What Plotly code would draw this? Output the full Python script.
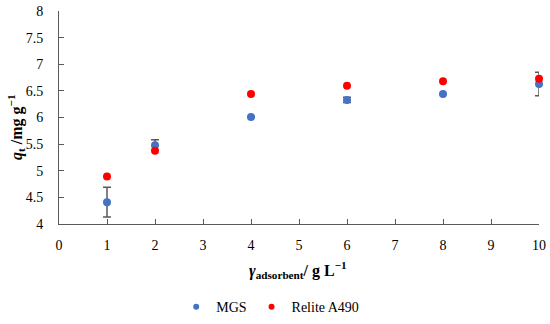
import plotly.graph_objects as go

dose = [1, 2, 4, 6, 8, 10]
mgs = [4.41, 5.48, 6.01, 6.33, 6.44, 6.63]
mgs_err = [0.28, 0.10, 0.0, 0.05, 0.0, 0.22]
relite = [4.89, 5.375, 6.44, 6.595, 6.68, 6.73]

FONT = "Liberation Serif"
AX = "#595959"
BLUE = "#4472C4"
RED = "#FF0000"

fig = go.Figure()
fig.add_trace(go.Scatter(
    x=dose, y=mgs, mode="markers", name="MGS", showlegend=False, legendgroup="mgs",
    marker=dict(color=BLUE, size=8), cliponaxis=False,
    error_y=dict(type="data", array=mgs_err, visible=True, color=AX, thickness=1.5, width=4),
))
fig.add_trace(go.Scatter(
    x=dose, y=relite, mode="markers", name="Relite A490", showlegend=False, legendgroup="rel",
    marker=dict(color=RED, size=8), cliponaxis=False,
))
# legend entries with the smaller legend dot
fig.add_trace(go.Scatter(x=[None], y=[None], mode="markers", name="MGS", legendgroup="mgs",
                         marker=dict(color=BLUE, size=6)))
fig.add_trace(go.Scatter(x=[None], y=[None], mode="markers", name="Relite A490", legendgroup="rel",
                         marker=dict(color=RED, size=6)))

fig.update_layout(
    template="none",
    width=550, height=324,
    margin=dict(l=59, r=11, t=11, b=100, autoexpand=False),
    paper_bgcolor="white", plot_bgcolor="white",
    font=dict(family=FONT, size=14, color="#000000"),
    showlegend=True,
    legend=dict(orientation="h", x=0.44, y=-0.39, xanchor="center", yanchor="middle",
                font=dict(family=FONT, size=14), itemwidth=30, tracegroupgap=0,
                bgcolor="rgba(0,0,0,0)"),
    xaxis=dict(range=[0, 10], dtick=1, tick0=0, showline=True, linecolor=AX, linewidth=1,
               ticks="inside", ticklen=5, tickcolor=AX, showgrid=False, zeroline=False,
               automargin=False, mirror=False,
               ticklabelstandoff=8, tickfont=dict(family=FONT, size=14)),
    yaxis=dict(range=[4, 8], dtick=0.5, tick0=4, showline=True, linecolor=AX, linewidth=1,
               ticks="inside", ticklen=5, tickcolor=AX, showgrid=False, zeroline=False,
               automargin=False, mirror=False,
               ticklabelstandoff=12, tickfont=dict(family=FONT, size=14)),
    annotations=[
        dict(text="<b><i>γ</i><sub>adsorbent</sub>/ g L<sup>−1</sup></b>", xref="paper", yref="paper",
             x=0.498, y=-0.216, xanchor="center", yanchor="middle", showarrow=False,
             font=dict(family=FONT, size=16)),
        dict(text="<b><i>q</i><sub>t</sub> /mg g<sup>−1</sup></b>", xref="paper", yref="paper",
             x=(16 - 59) / 480, y=(224 - 127) / 213, xanchor="center", yanchor="middle",
             textangle=-90, showarrow=False, font=dict(family=FONT, size=16)),
    ],
)

fig.write_html("out.html", config={"displayModeBar": False},
               post_script="document.body.style.margin='0';document.body.style.overflow='hidden';")
